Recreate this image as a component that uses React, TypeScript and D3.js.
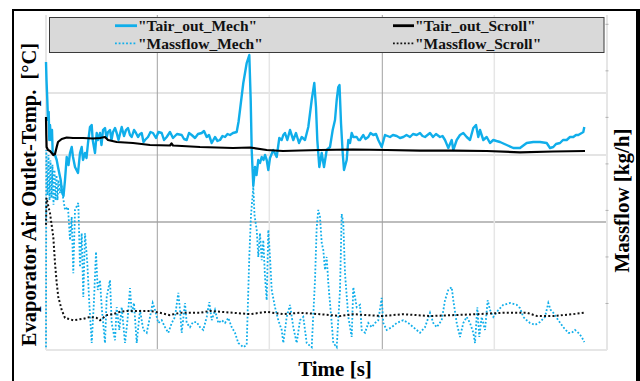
import React from "react";
import * as d3 from "d3";

const W = 640;
const H = 381;
const plot = { left: 46, right: 607, top: 15, bottom: 350 };

const timeDomain: [number, number] = [0, 5610];
const tempDomain: [number, number] = [0, 33.5];
const flowDomain: [number, number] = [0, 72];

const timeGrid = [1113, 2233, 3363, 4483];
const tempGrid = [12.8, 19.5, 25.7];
const flowTicks = [10, 20, 30, 40, 50, 60, 70];

// Evaporator air outlet temperature, mechanical compressor [°C]
const tairMechTime = [
  0, 5, 13, 20, 27, 33, 40, 50, 60, 67, 90, 107, 120, 147, 160, 175, 190, 207, 225, 240,
  257, 270, 290, 320, 340, 357, 370, 390, 405, 420, 440, 457, 467, 490, 507, 520, 540, 555, 570, 590,
  605, 620, 640, 655, 670, 690, 707, 725, 757, 780, 800, 820, 840, 857, 880, 900, 920, 940, 957, 975,
  990, 1020, 1045, 1070, 1100, 1125, 1157, 1180, 1207, 1240, 1270, 1310, 1357, 1380, 1407, 1430, 1457, 1490, 1520, 1557,
  1580, 1607, 1630, 1657, 1690, 1715, 1740, 1765, 1790, 1815, 1840, 1870, 1907, 1925, 1940, 1973, 2007, 2033, 2047, 2057,
  2073, 2090, 2105, 2123, 2140, 2157, 2175, 2190, 2207, 2223, 2240, 2273, 2307, 2333, 2357, 2373, 2390, 2413, 2440, 2473,
  2500, 2530, 2557, 2590, 2623, 2657, 2683, 2700, 2713, 2733, 2757, 2780, 2807, 2840, 2867, 2890, 2907, 2923, 2935, 2950,
  2967, 2980, 3007, 3023, 3040, 3057, 3073, 3107, 3125, 3140, 3173, 3195, 3223, 3245, 3273, 3300, 3323, 3357, 3390, 3415,
  3440, 3470, 3507, 3540, 3573, 3605, 3640, 3670, 3707, 3740, 3765, 3790, 3815, 3840, 3870, 3900, 3940, 3965, 3990, 4023,
  4057, 4073, 4107, 4140, 4173, 4207, 4240, 4273, 4300, 4323, 4340, 4373, 4407, 4440, 4473, 4505, 4540, 4607, 4673, 4740,
  4780, 4807, 4873, 4940, 5007, 5040, 5073, 5100, 5140, 5170, 5207, 5240, 5273, 5300, 5323, 5357, 5373, 5383,
];
const tairMechValue = [
  28.8, 27.0, 25.0, 23.0, 23.8, 21.0, 22.5, 21.0, 22.0, 19.7, 19.5, 19.0, 18.3, 17.0, 15.8, 15.4, 17.0, 19.3, 18.5, 19.7,
  20.3, 19.3, 18.3, 17.7, 19.7, 20.3, 19.0, 19.7, 19.2, 20.7, 22.3, 22.5, 21.0, 19.7, 21.7, 21.0, 21.7, 20.5, 22.0, 22.2,
  21.2, 21.8, 22.0, 21.0, 21.8, 22.2, 21.7, 21.0, 22.3, 21.4, 22.0, 22.2, 21.5, 21.3, 22.0, 21.7, 21.3, 21.6, 21.7, 20.8,
  21.0, 21.3, 21.8, 21.7, 21.2, 21.8, 21.7, 21.0, 21.3, 21.8, 21.2, 21.6, 21.5, 21.1, 21.0, 21.7, 21.5, 21.2, 21.6, 21.7,
  21.9, 21.3, 21.5, 20.7, 21.3, 20.9, 21.0, 21.4, 21.3, 21.6, 21.5, 21.7, 21.8, 22.8, 24.0, 26.7, 28.7, 29.5, 25.0, 20.0,
  16.4, 18.3, 17.5, 19.0, 18.7, 19.3, 19.0, 19.5, 19.0, 18.0, 19.2, 20.0, 19.3, 21.2, 21.0, 21.5, 21.7, 21.0, 22.0, 21.0,
  21.7, 20.7, 21.3, 21.0, 22.3, 25.0, 26.7, 24.3, 21.0, 18.3, 19.7, 18.3, 20.0, 20.3, 22.0, 23.0, 25.0, 26.3, 26.5, 22.7,
  19.7, 18.0, 19.0, 21.0, 20.7, 21.7, 21.3, 21.3, 21.0, 21.0, 21.5, 21.1, 21.3, 21.7, 21.5, 21.6, 21.0, 20.3, 21.5, 21.4,
  21.3, 21.5, 21.4, 21.2, 21.3, 21.5, 21.3, 21.6, 21.5, 21.7, 21.4, 21.3, 21.5, 21.7, 21.3, 21.6, 21.3, 21.4, 21.0, 20.2,
  21.0, 20.0, 21.0, 21.5, 21.7, 21.3, 21.0, 22.2, 22.5, 21.3, 22.0, 21.0, 21.3, 20.7, 21.0, 20.9, 20.8, 20.5, 20.2, 20.2,
  20.5, 20.7, 20.8, 20.8, 20.7, 20.2, 20.3, 20.6, 20.7, 21.0, 21.0, 21.3, 21.3, 21.5, 21.5, 21.7, 21.8, 22.3,
];

// Evaporator air outlet temperature, scroll compressor [°C]
const tairScrollTime = [
  0, 3, 6, 20, 40, 57, 73, 90, 107, 120, 157, 207, 270, 370, 470, 540, 590, 620, 707, 870,
  1040, 1240, 1255, 1270, 1540, 1870, 2040, 2207, 2370, 2540, 2740, 3070, 3407, 3740, 4070, 4407, 4740, 5070, 5390,
];
const tairScrollValue = [
  23.3, 21.5, 20.3, 20.0, 19.9, 19.7, 19.5, 19.6, 20.3, 20.8, 21.1, 21.25, 21.2, 21.2, 21.15, 21.2, 21.3, 21.0, 20.8, 20.7,
  20.5, 20.45, 20.65, 20.45, 20.3, 20.2, 20.25, 20.0, 19.9, 19.95, 20.0, 20.05, 20.0, 19.93, 19.93, 19.9, 19.77, 19.85, 19.9,
];

// Refrigerant mass flow, mechanical compressor [kg/h]
const flowMechTime = [
  0, 3, 15, 25, 35, 45, 55, 65, 75, 85, 95, 105, 115, 125, 140, 155, 170, 190, 220, 240,
  257, 273, 290, 323, 340, 357, 373, 390, 413, 433, 457, 480, 500, 517, 540, 557, 590, 607, 640, 657,
  690, 707, 733, 757, 790, 815, 840, 857, 880, 907, 940, 973, 1007, 1040, 1067, 1090, 1123, 1157, 1190, 1223,
  1257, 1290, 1323, 1340, 1357, 1390, 1407, 1440, 1470, 1507, 1540, 1573, 1607, 1633, 1657, 1690, 1723, 1757, 1790, 1823,
  1857, 1890, 1923, 1973, 2007, 2033, 2050, 2073, 2085, 2107, 2123, 2140, 2157, 2173, 2190, 2207, 2223, 2240, 2257, 2290,
  2323, 2357, 2373, 2407, 2440, 2473, 2507, 2540, 2573, 2607, 2657, 2690, 2707, 2723, 2740, 2757, 2773, 2790, 2807, 2823,
  2857, 2873, 2907, 2940, 2957, 2973, 2990, 3023, 3057, 3073, 3107, 3140, 3157, 3190, 3223, 3257, 3290, 3323, 3357, 3373,
  3407, 3457, 3507, 3573, 3623, 3673, 3740, 3790, 3840, 3873, 3907, 3957, 3990, 4023, 4057, 4073, 4107, 4140, 4173, 4207,
  4240, 4273, 4290, 4313, 4333, 4357, 4390, 4417, 4440, 4473, 4523, 4573, 4640, 4707, 4740, 4773, 4807, 4840, 4890, 4940,
  4990, 5023, 5047, 5073, 5123, 5173, 5223, 5257, 5290, 5323, 5357, 5383,
];
const flowMechValue = [
  0.6, 43.0, 33.3, 41.9, 32.2, 40.8, 32.7, 39.8, 31.2, 38.7, 32.2, 37.6, 32.2, 36.5, 33.7, 35.5, 32.9, 30.1, 30.7, 23.6,
  28.6, 16.5, 30.1, 31.6, 17.8, 25.1, 11.4, 25.1, 18.7, 10.1, 1.5, 10.7, 21.1, 12.9, 15.0, 9.2, 1.5, 11.4, 15.0, 5.8,
  2.1, 9.2, 4.3, 9.2, 1.5, 6.4, 13.3, 8.0, 10.1, 1.5, 8.6, 4.3, 3.7, 7.1, 10.1, 8.6, 5.8, 6.4, 4.9, 3.7,
  5.8, 7.1, 12.3, 8.6, 3.7, 10.1, 5.8, 4.9, 6.0, 6.0, 4.9, 4.3, 7.1, 10.3, 6.4, 8.6, 5.8, 6.4, 5.8, 6.9,
  4.9, 3.7, 1.5, 0.6, 1.1, 20.0, 29.0, 35.0, 29.0, 25.8, 20.0, 25.1, 19.3, 23.6, 15.7, 10.7, 25.8, 20.0, 12.9, 9.2,
  6.4, 4.3, 1.5, 7.1, 9.7, 4.9, 1.5, 6.4, 7.1, 1.5, 0.6, 15.0, 26.4, 30.1, 28.6, 23.0, 21.5, 17.2, 20.0, 14.4,
  5.8, 1.5, 0.6, 12.9, 29.2, 27.3, 16.5, 7.1, 2.8, 13.5, 9.2, 9.7, 4.3, 3.7, 5.8, 4.9, 5.8, 6.4, 11.2, 5.8,
  4.3, 4.9, 5.8, 6.4, 5.8, 4.9, 3.7, 4.9, 8.0, 5.8, 4.9, 6.4, 10.7, 12.9, 13.5, 10.7, 5.8, 2.8, 5.8, 7.1,
  5.8, 3.7, 1.5, 9.2, 2.8, 7.1, 4.3, 10.7, 8.6, 7.1, 8.6, 9.7, 10.1, 9.7, 9.0, 7.1, 6.4, 5.8, 5.4, 6.0,
  7.1, 10.1, 8.6, 8.0, 6.4, 4.9, 3.7, 3.7, 4.3, 3.7, 2.8, 1.7,
];

// Refrigerant mass flow, scroll compressor [kg/h]
const flowScrollTime = [
  0, 5, 20, 40, 73, 90, 107, 123, 157, 190, 273, 373, 440, 507, 540, 607, 670, 740, 807, 1040,
  1140, 1240, 1340, 1540, 1640, 1870, 2040, 2207, 2370, 2540, 2740, 2940, 3070, 3360, 3570, 3840, 4310, 4570, 4810, 4910,
  5070, 5270, 5380,
];
const flowScrollValue = [
  26.9, 32.7, 31.2, 29.4, 24.3, 18.7, 14.4, 11.4, 8.6, 6.9, 6.4, 6.7, 7.1, 6.9, 6.4, 7.5, 7.7, 8.2, 8.4, 8.4,
  8.0, 7.5, 8.0, 8.0, 8.4, 8.0, 7.7, 8.2, 7.7, 8.0, 7.7, 7.3, 7.7, 7.3, 7.7, 7.3, 7.7, 8.0, 8.0, 7.3,
  7.3, 7.7, 8.0,
];

const BLUE = "#10aeea";
const SERIF = "'Liberation Serif', 'Times New Roman', serif";

const legendLeft = [
  { label: '"Tair_out_Mech"', color: BLUE, dash: null as string | null, width: 2.8 },
  { label: '"Massflow_Mech"', color: BLUE, dash: "1.8 1.9", width: 1.8 },
];
const legendRight = [
  { label: '"Tair_out_Scroll"', color: "#000", dash: null as string | null, width: 2.8 },
  { label: '"Massflow_Scroll"', color: "#111", dash: "1.8 1.9", width: 1.8 },
];

export default function App() {
  const x = d3.scaleLinear().domain(timeDomain).range([plot.left, plot.right]);
  const yT = d3.scaleLinear().domain(tempDomain).range([plot.bottom, plot.top]);
  const yM = d3.scaleLinear().domain(flowDomain).range([plot.bottom, plot.top]);

  const lineT = d3
    .line<[number, number]>()
    .x((d) => x(d[0]))
    .y((d) => yT(d[1]));
  const lineM = d3
    .line<[number, number]>()
    .x((d) => x(d[0]))
    .y((d) => yM(d[1]));

  const zip = (a: number[], b: number[]) => a.map((t, i) => [t, b[i]] as [number, number]);

  const pTairMech = lineT(zip(tairMechTime, tairMechValue)) || "";
  const pTairScroll = lineT(zip(tairScrollTime, tairScrollValue)) || "";
  const pFlowMech = lineM(zip(flowMechTime, flowMechValue)) || "";
  const pFlowScroll = lineM(zip(flowScrollTime, flowScrollValue)) || "";

  const legendBox = { x: 49.5, y: 17.5, w: 554.5, h: 35 };
  const rowY = [25.7, 43.3];

  return (
    <svg width={W} height={H} style={{ display: "block", position: "absolute", left: 0, top: 0 }}>
      <rect x={0} y={0} width={W} height={H} fill="#fff" />
      {/* outer frame */}
      <rect x={13} y={10} width={624} height={385} fill="none" stroke="#000" strokeWidth={2} />
      <line x1={638.5} y1={9} x2={638.5} y2={H} stroke="#000" strokeWidth={3} />

      {/* grid */}
      {tempGrid.map((v, i) => (
        <line
          key={"tg" + i}
          x1={plot.left}
          x2={plot.right}
          y1={yT(v)}
          y2={yT(v)}
          stroke={i === 0 ? "#bdbdbd" : "#e4e4e4"}
          strokeWidth={2}
        />
      ))}
      {timeGrid.map((v, i) => (
        <line
          key={"xg" + i}
          x1={x(v)}
          x2={x(v)}
          y1={plot.top}
          y2={plot.bottom}
          stroke={i % 2 === 0 ? "#a0a0a0" : "#e6e6e6"}
          strokeWidth={i % 2 === 0 ? 1 : 1.5}
        />
      ))}

      {/* axes frame */}
      <line x1={plot.left} x2={plot.left} y1={plot.top} y2={plot.bottom} stroke="#e6e6e6" strokeWidth={2} />
      <line x1={plot.right} x2={plot.right} y1={plot.top} y2={plot.bottom} stroke="#e6e6e6" strokeWidth={2} />
      <line x1={plot.left} x2={plot.right} y1={plot.bottom} y2={plot.bottom} stroke="#e6e6e6" strokeWidth={2} />
      {flowTicks.map((v) => (
        <line key={"ft" + v} x1={plot.right - 1.5} x2={plot.right + 1.5} y1={yM(v)} y2={yM(v)} stroke="#b0b0b0" strokeWidth={1} />
      ))}

      {/* series */}
      <path d={pFlowMech} fill="none" stroke={BLUE} strokeWidth={1.8} strokeDasharray="1.8 1.9" />
      <path d={pFlowScroll} fill="none" stroke="#111" strokeWidth={2} strokeDasharray="2 2.2" />
      <path d={pTairMech} fill="none" stroke={BLUE} strokeWidth={2.4} strokeLinejoin="round" />
      <path d={pTairScroll} fill="none" stroke="#000" strokeWidth={2.2} strokeLinejoin="round" />

      {/* legend */}
      <rect
        x={legendBox.x}
        y={legendBox.y}
        width={legendBox.w}
        height={legendBox.h}
        fill="#d9d9d9"
        stroke="#3a3a3a"
        strokeWidth={1}
      />
      {legendLeft.map((e, i) => (
        <g key={"ll" + i}>
          <line
            x1={115}
            x2={137}
            y1={rowY[i]}
            y2={rowY[i]}
            stroke={e.color}
            strokeWidth={e.width}
            strokeDasharray={e.dash || undefined}
          />
          <text x={138} y={rowY[i] + 5.3} fontFamily={SERIF} fontWeight="bold" fontSize={15.5} fill="#111">
            {e.label}
          </text>
        </g>
      ))}
      {legendRight.map((e, i) => (
        <g key={"lr" + i}>
          <line
            x1={393}
            x2={414}
            y1={rowY[i]}
            y2={rowY[i]}
            stroke={e.color}
            strokeWidth={e.width}
            strokeDasharray={e.dash || undefined}
          />
          <text x={415} y={rowY[i] + 5.3} fontFamily={SERIF} fontWeight="bold" fontSize={15.5} fill="#111">
            {e.label}
          </text>
        </g>
      ))}

      {/* axis titles */}
      <text
        transform="translate(36,194.5) rotate(-90)"
        textAnchor="middle"
        fontFamily={SERIF}
        fontWeight="bold"
        fontSize={20.5}
        fill="#000"
        style={{ whiteSpace: "pre" }}
      >
        {"Evaporator Air Outlet-Temp.  [°C]"}
      </text>
      <text
        transform="translate(629,200.5) rotate(-90)"
        textAnchor="middle"
        fontFamily={SERIF}
        fontWeight="bold"
        fontSize={21}
        fill="#000"
      >
        Massflow [kg/h]
      </text>
      <text x={335} y={376} textAnchor="middle" fontFamily={SERIF} fontWeight="bold" fontSize={21} fill="#000">
        Time [s]
      </text>
    </svg>
  );
}
